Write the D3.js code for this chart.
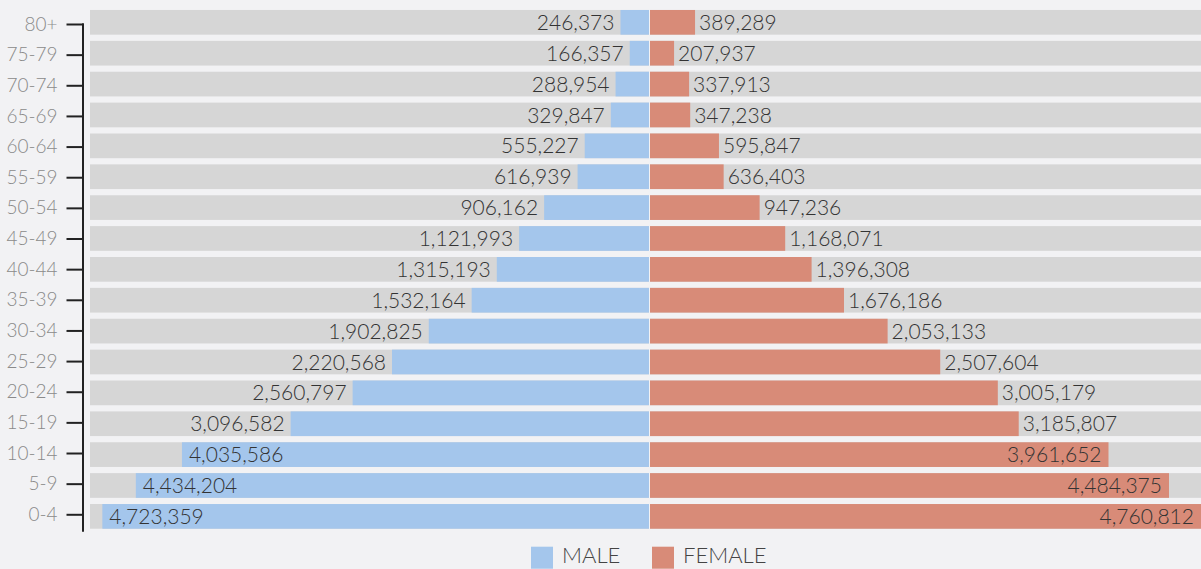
<!DOCTYPE html>
<html>
<head>
<meta charset="utf-8">
<script src="https://cdn.jsdelivr.net/npm/d3@7"></script>
<style>
  html, body { margin: 0; padding: 0; background: #f2f2f4; overflow: hidden; }
  svg { display: block; }
  text { font-family: Lato, "Noto Sans", sans-serif; font-weight: 300; }
</style>
</head>
<body>
<svg id="chart" width="1201" height="569"></svg>
<script>
const ageGroups = ["80+","75-79","70-74","65-69","60-64","55-59","50-54","45-49","40-44","35-39","30-34","25-29","20-24","15-19","10-14","5-9","0-4"];
const maleValues = [246373,166357,288954,329847,555227,616939,906162,1121993,1315193,1532164,1902825,2220568,2560797,3096582,4035586,4434204,4723359];
const femaleValues = [389289,207937,337913,347238,595847,636403,947236,1168071,1396308,1676186,2053133,2507604,3005179,3185807,3961652,4484375,4760812];
const legendLabels = ["MALE","FEMALE"];
const colors = { male: "#a4c6ec", female: "#d88b78", track: "#d6d6d6" };

const svg = d3.select("#chart");
const centerL = 649, centerR = 650, half = 559;
const fmt = d3.format(",");

const domainMax = 4830000;
const xMale = d3.scaleLinear().domain([0, domainMax]).range([centerL, centerL - half]);
const xFemale = d3.scaleLinear().domain([0, domainMax]).range([centerR, centerR + half]);

const y = d3.scaleBand().domain(ageGroups).range([3.8, 534.9]).paddingInner(0.2).paddingOuter(0.2);
const yAxisScale = d3.scalePoint().domain(ageGroups).range([24, 514.3]);

const rows = ageGroups.map((g, i) => ({ g, m: maleValues[i], f: femaleValues[i] }));

// tracks
svg.append("g").selectAll("rect").data(rows).join("rect")
  .attr("x", xMale(domainMax)).attr("y", d => y(d.g))
  .attr("width", xMale(0) - xMale(domainMax)).attr("height", y.bandwidth())
  .attr("fill", colors.track);
svg.append("g").selectAll("rect").data(rows).join("rect")
  .attr("x", xFemale(0)).attr("y", d => y(d.g))
  .attr("width", xFemale(domainMax) - xFemale(0)).attr("height", y.bandwidth())
  .attr("fill", colors.track);

// bars
svg.append("g").selectAll("rect").data(rows).join("rect")
  .attr("x", d => xMale(d.m)).attr("y", d => y(d.g))
  .attr("width", d => xMale(0) - xMale(d.m)).attr("height", y.bandwidth())
  .attr("fill", colors.male);
svg.append("g").selectAll("rect").data(rows).join("rect")
  .attr("x", xFemale(0)).attr("y", d => y(d.g))
  .attr("width", d => xFemale(d.f) - xFemale(0)).attr("height", y.bandwidth())
  .attr("fill", colors.female);

// labels
const labelStyle = sel => sel.attr("font-size", 21).attr("fill", "#333").attr("dy", "0.36em");
svg.append("g").selectAll("text").data(rows).join("text")
  .call(labelStyle)
  .attr("y", d => y(d.g) + y.bandwidth() / 2)
  .text(d => fmt(d.m))
  .each(function (d) {
    const w = this.getComputedTextLength();
    const bx = xMale(d.m);
    if (bx - 6 - w < xMale(domainMax)) {
      d3.select(this).attr("x", bx + 7).attr("text-anchor", "start");
    } else {
      d3.select(this).attr("x", bx - 6).attr("text-anchor", "end");
    }
  });
svg.append("g").selectAll("text").data(rows).join("text")
  .call(labelStyle)
  .attr("y", d => y(d.g) + y.bandwidth() / 2)
  .text(d => fmt(d.f))
  .each(function (d) {
    const w = this.getComputedTextLength();
    const bx = xFemale(d.f);
    if (bx + 4 + w > 1201) {
      d3.select(this).attr("x", bx - 7).attr("text-anchor", "end");
    } else {
      d3.select(this).attr("x", bx + 4).attr("text-anchor", "start");
    }
  });

// y axis
const axisG = svg.append("g").attr("transform", "translate(82.5,0)")
  .call(d3.axisLeft(yAxisScale).tickSize(16).tickPadding(9).tickSizeOuter(0));
axisG.select(".domain").attr("d", "M0.5,23.3V531.7").attr("stroke", "#222").attr("stroke-width", 2);
axisG.selectAll(".tick line").attr("stroke", "#222").attr("stroke-width", 2);
axisG.selectAll(".tick text").attr("font-size", 19).attr("fill", "#8a8a8a")
  .attr("font-family", "Lato, 'Noto Sans', sans-serif").attr("font-weight", 300);

// legend
const legend = svg.append("g");
const legendX = [531, 652];
const legendC = [colors.male, colors.female];
legendLabels.forEach((l, i) => {
  legend.append("rect").attr("x", legendX[i]).attr("y", 546.7).attr("width", 22).attr("height", 22).attr("fill", legendC[i]);
  legend.append("text").attr("x", legendX[i] + 31).attr("y", 563).attr("font-size", 22).attr("fill", "#444").text(l);
});
</script>
</body>
</html>
